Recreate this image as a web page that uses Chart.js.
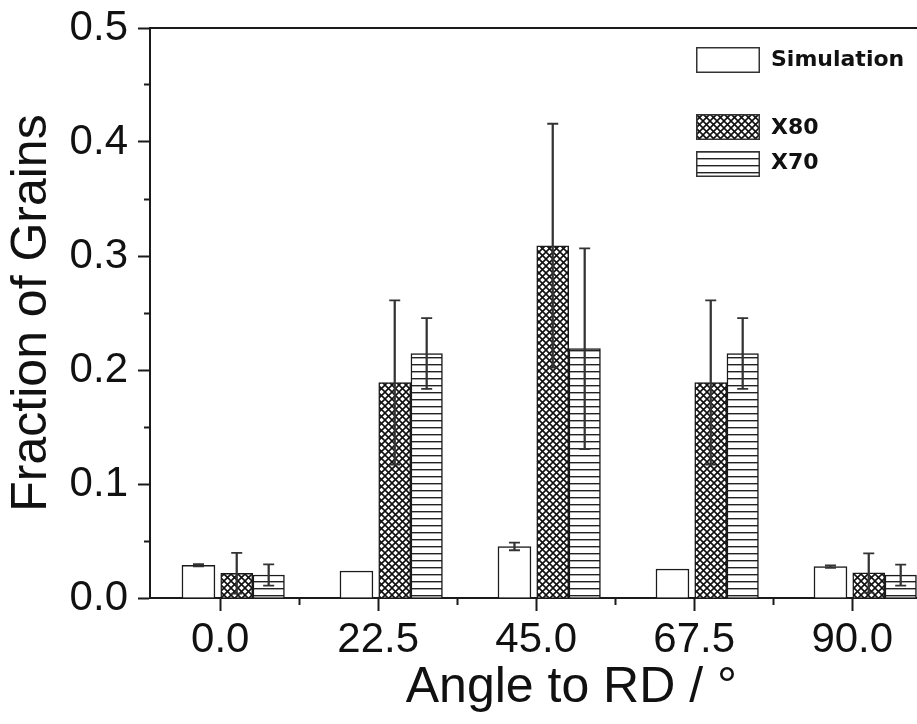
<!DOCTYPE html>
<html><head><meta charset="utf-8">
<script src="https://cdn.jsdelivr.net/npm/chart.js@4.4.1/dist/chart.umd.min.js"></script>
<style>
html,body{margin:0;padding:0;overflow:hidden;background:#fff;width:917px;height:724px;}
#wrap{position:absolute;left:0;top:0;width:1000px;height:724px;}
.sw{position:absolute;}
.lt{position:absolute;font-family:"DejaVu Sans",sans-serif;font-weight:bold;font-size:22px;color:#111;line-height:1;white-space:nowrap;}
</style></head><body>
<div id="wrap"><canvas id="c" width="1000" height="724"></canvas></div>
<div id="legend"></div>
<script>
// ---- data ----
const angles = [0, 22.5, 45, 67.5, 90];
const angleLabels = ['0.0', '22.5', '45.0', '67.5', '90.0'];
const minorAngles = [11.25, 33.75, 56.25, 78.75, 101.25];
const yTicks = [0, 0.1, 0.2, 0.3, 0.4, 0.5];
const yTickLabels = ['0.0', '0.1', '0.2', '0.3', '0.4', '0.5'];
const yMinorTicks = [0.05, 0.15, 0.25, 0.35, 0.45];
const seriesNames = ['Simulation', 'X80', 'X70'];
const simulation = [0.0287, 0.0237, 0.0452, 0.0254, 0.0275];
const simulationErr = [0.0010, 0, 0.0033, 0, 0.0010];
const x80 = [0.0217, 0.189, 0.309, 0.189, 0.0220];
const x80Err = [0.0178, 0.072, 0.107, 0.072, 0.0172];
const x70 = [0.0202, 0.2145, 0.2187, 0.2145, 0.0200];
const x70Err = [0.0093, 0.031, 0.088, 0.031, 0.0092];

// ---- layout / style constants ----
const seriesOffset = [-3.1, 2.35, 6.9];   // shift of each series from its angle (degrees)
const seriesWidth = [33, 32, 31.5];      // bar thickness, px
const FONT = "'Liberation Sans', Arial, sans-serif";
const INK = '#1a1a1a';

function crossPattern(ctx) {
  const c = document.createElement('canvas'); c.width = 7; c.height = 7;
  const g = c.getContext('2d');
  g.fillStyle = '#fff'; g.fillRect(0, 0, 7, 7);
  g.strokeStyle = '#111'; g.lineWidth = 1.6;
  for (const d of [-7, 0, 7]) {
    g.beginPath(); g.moveTo(d, 0); g.lineTo(d + 7, 7); g.moveTo(d, 7); g.lineTo(d + 7, 0); g.stroke();
  }
  return ctx.createPattern(c, 'repeat');
}
function hPattern(ctx) {
  const c = document.createElement('canvas'); c.width = 7; c.height = 7;
  const g = c.getContext('2d');
  g.fillStyle = '#fff'; g.fillRect(0, 0, 7, 7);
  g.fillStyle = '#222'; g.fillRect(0, 0, 7, 1.4);
  return ctx.createPattern(c, 'repeat');
}

const canvas = document.getElementById('c');
const ctx = canvas.getContext('2d');
const fills = [() => '#fff', crossPattern, hPattern];
const values = [simulation, x80, x70];
const errs = [simulationErr, x80Err, x70Err];

const datasets = [];
values.forEach((vals, s) => {
  const off = seriesOffset[s];
  datasets.push({
    type: 'bar', label: seriesNames[s], order: 3, grouped: false,
    data: angles.map((a, i) => ({x: a + off, y: vals[i]})),
    backgroundColor: fills[s](ctx), borderColor: INK, borderWidth: 1.5,
    barThickness: seriesWidth[s]
  });
  const idx = angles.map((a, i) => i).filter(i => errs[s][i] > 0);
  datasets.push({
    type: 'bar', label: seriesNames[s] + ' err', order: 2, grouped: false,
    data: idx.map(i => ({x: angles[i] + off, y: [vals[i] - errs[s][i], vals[i] + errs[s][i]]})),
    backgroundColor: '#333', borderWidth: 0, barThickness: 1.6
  });
  const caps = [];
  idx.forEach(i => {
    caps.push({x: angles[i] + off, y: vals[i] + errs[s][i]});
    caps.push({x: angles[i] + off, y: vals[i] - errs[s][i]});
  });
  datasets.push({
    type: 'scatter', label: seriesNames[s] + ' caps', order: 1,
    data: caps, pointStyle: 'line', pointRadius: 5.5, borderColor: '#333',
    borderWidth: 1.8, backgroundColor: '#333'
  });
});

const noPad = s => { s.paddingTop = 0; s.paddingBottom = 0; s.paddingLeft = 0; s.paddingRight = 0; };

new Chart(canvas, {
  data: {datasets},
  options: {
    responsive: false, animation: false, events: [],
    layout: {padding: {left: 0, top: 28, right: 5, bottom: 0}},
    plugins: {legend: {display: false}, tooltip: {enabled: false}},
    scales: {
      x: {
        type: 'linear', position: 'bottom', weight: 1, min: -10, max: 110, offset: false,
        grid: {drawOnChartArea: false, tickLength: 13, tickWidth: 2, tickColor: INK, offset: false},
        border: {display: true, color: INK, width: 2},
        ticks: {font: {family: FONT, size: 42}, color: '#111', padding: 4, maxRotation: 0, autoSkip: false,
                callback: (v, i) => angleLabels[i]},
        afterBuildTicks: s => { s.ticks = angles.map(v => ({value: v})); },
        afterFit: s => { s.height = 126; noPad(s); },
        title: {display: true, text: 'Angle to RD / °', font: {family: FONT, size: 50}, color: '#111',
                padding: {top: 0, bottom: 6}}
      },
      xMinor: {
        type: 'linear', position: 'bottom', weight: 0, min: -10, max: 110, offset: false,
        grid: {drawOnChartArea: false, tickLength: 7, tickWidth: 2, tickColor: INK, offset: false},
        border: {display: false}, ticks: {display: false},
        afterBuildTicks: s => { s.ticks = minorAngles.map(v => ({value: v})); },
        afterFit: s => { s.height = 0; noPad(s); }
      },
      xTop: {
        type: 'linear', position: 'top', min: -10, max: 110, offset: false,
        grid: {drawOnChartArea: false, drawTicks: false},
        border: {display: true, color: INK, width: 2}, ticks: {display: false},
        afterFit: s => { s.height = 0; noPad(s); }
      },
      y: {
        type: 'linear', position: 'left', weight: 1, min: 0, max: 0.5,
        grid: {drawOnChartArea: false, tickLength: 12, tickWidth: 2, tickColor: INK},
        border: {display: true, color: INK, width: 2},
        ticks: {font: {family: FONT, size: 42}, color: '#111', padding: 10,
                callback: (v, i) => yTickLabels[i]},
        afterBuildTicks: s => { s.ticks = yTicks.map(v => ({value: v})); },
        afterFit: s => { s.width = 150; noPad(s); },
        title: {display: true, text: 'Fraction of Grains', font: {family: FONT, size: 50}, color: '#111',
                padding: {top: 2, bottom: 0}}
      },
      yMinor: {
        type: 'linear', position: 'left', weight: 0, min: 0, max: 0.5,
        grid: {drawOnChartArea: false, tickLength: 6, tickWidth: 2, tickColor: INK},
        border: {display: false}, ticks: {display: false},
        afterBuildTicks: s => { s.ticks = yMinorTicks.map(v => ({value: v})); },
        afterFit: s => { s.width = 0; noPad(s); }
      }
    }
  }
});

// ---- legend (HTML, real text) ----
const legendRows = [
  {name: seriesNames[0], fill: 0, swTop: 47, txtTop: 48},
  {name: seriesNames[1], fill: 1, swTop: 114, txtTop: 116},
  {name: seriesNames[2], fill: 2, swTop: 151, txtTop: 151}
];
const leg = document.getElementById('legend');
legendRows.forEach(r => {
  const sw = document.createElement('canvas');
  sw.width = 64; sw.height = 26; sw.className = 'sw';
  sw.style.left = '696px'; sw.style.top = r.swTop + 'px';
  const g = sw.getContext('2d');
  g.fillStyle = fills[r.fill](g); g.fillRect(1, 1, 62, 24);
  g.strokeStyle = '#333'; g.lineWidth = 1.5; g.strokeRect(0.75, 0.75, 62.5, 24.5);
  leg.appendChild(sw);
  const t = document.createElement('div');
  t.className = 'lt'; t.textContent = r.name;
  t.style.left = '771px'; t.style.top = r.txtTop + 'px';
  leg.appendChild(t);
});
</script>
</body></html>
